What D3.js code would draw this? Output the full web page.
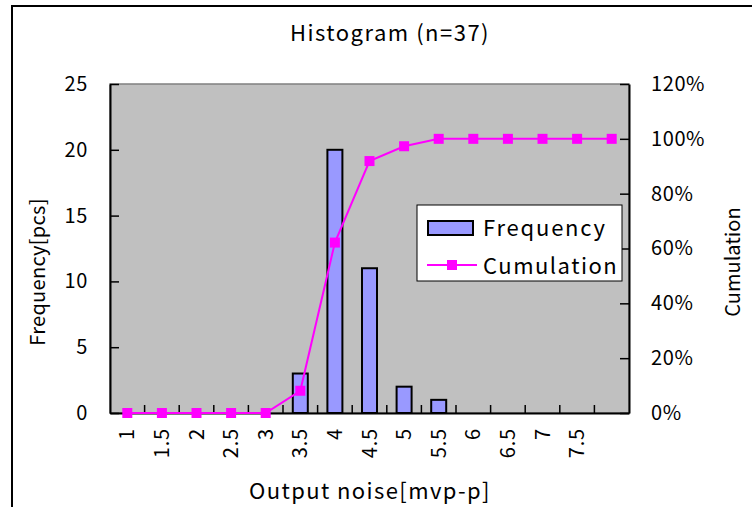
<!DOCTYPE html>
<html>
<head>
<meta charset="utf-8">
<script src="https://cdn.jsdelivr.net/npm/d3@7"></script>
<style>
  html, body { margin: 0; padding: 0; background: #fff; }
  svg { display: block; }
  text { font-family: "Noto Sans CJK JP", "Noto Sans", sans-serif; fill: #000; }
</style>
</head>
<body>
<svg id="chart" width="752" height="507"></svg>
<script>
// Bin labels (the last bin is the overflow bin, drawn without a label)
const bins = ["1", "1.5", "2", "2.5", "3", "3.5", "4", "4.5", "5", "5.5", "6", "6.5", "7", "7.5", ""];
// Count per bin
const frequency = [0, 0, 0, 0, 0, 3, 20, 11, 2, 1, 0, 0, 0, 0, 0];
const leftTicks = [0, 5, 10, 15, 20, 25];
const rightTicks = [0, 0.2, 0.4, 0.6, 0.8, 1.0, 1.2];

const total = d3.sum(frequency);
const cumulation = Array.from(d3.cumsum(frequency), v => v / total);

const svg = d3.select("#chart");
const W = 752, H = 507;
const plot = { left: 110, right: 629, top: 84, bottom: 413 };

// Outer chart frame
svg.append("path")
  .attr("d", `M12,${H + 5} L12,6 L${W + 5},6`)
  .attr("fill", "none").attr("stroke", "#000").attr("stroke-width", 2);

const x = d3.scaleBand().domain(d3.range(bins.length)).range([plot.left, plot.right]);
const cx = i => x(i) + x.bandwidth() / 2;
const yL = d3.scaleLinear().domain([0, 25]).range([plot.bottom, plot.top]);
const yR = d3.scaleLinear().domain([0, 1.2]).range([plot.bottom, plot.top]);

// Plot area
svg.append("rect")
  .attr("x", plot.left).attr("y", plot.top)
  .attr("width", plot.right - plot.left).attr("height", plot.bottom - plot.top)
  .attr("fill", "#c0c0c0").attr("stroke", "#808080").attr("stroke-width", 1.5);

// Bars (empty bins draw nothing)
const barW = 15;
const barData = frequency.map((v, i) => ({ v, i })).filter(d => d.v > 0);
svg.append("g").selectAll("rect").data(barData).join("rect")
  .attr("x", d => cx(d.i) - barW / 2)
  .attr("y", d => yL(d.v))
  .attr("width", barW)
  .attr("height", d => yL(0) - yL(d.v))
  .attr("fill", "#9999ff").attr("stroke", "#000").attr("stroke-width", 2);

// Axes
const axL = d3.axisLeft(yL).tickValues(leftTicks).tickSizeInner(-9).tickSizeOuter(0).tickPadding(22);
const gL = svg.append("g").attr("transform", `translate(${plot.left},0)`).call(axL);
const axR = d3.axisRight(yR).tickValues(rightTicks).tickSizeInner(-9).tickSizeOuter(0).tickPadding(22)
  .tickFormat(d3.format(".0%"));
const gR = svg.append("g").attr("transform", `translate(${plot.right},0)`).call(axR);
const axB = d3.axisBottom(x).tickValues([]).tickSizeOuter(0);
const gB = svg.append("g").attr("transform", `translate(0,${plot.bottom})`).call(axB);

[gL, gR, gB].forEach(g => {
  g.select(".domain").attr("stroke", "#000").attr("stroke-width", 2);
  g.selectAll(".tick line").attr("stroke", "#000").attr("stroke-width", 1.5);
  g.selectAll(".tick text").attr("font-size", 20).attr("fill", "#000")
    .attr("letter-spacing", 0.6)
    .style("font-family", '"Noto Sans CJK JP", "Noto Sans", sans-serif');
});

// Category boundary ticks on the bottom axis (pointing into the plot)
svg.append("g").selectAll("line").data(d3.range(1, bins.length)).join("line")
  .attr("x1", i => x(i)).attr("x2", i => x(i))
  .attr("y1", plot.bottom).attr("y2", plot.bottom - 8)
  .attr("stroke", "#000").attr("stroke-width", 1.5);

// Category labels, rotated
svg.append("g").selectAll("text").data(bins).join("text")
  .attr("transform", (d, i) => `translate(${cx(i) + 7},428) rotate(-90)`)
  .attr("text-anchor", "end")
  .attr("font-size", 20)
  .attr("letter-spacing", 0.8)
  .text(d => d);

// Cumulative line with square markers
const line = d3.line().x((d, i) => cx(i)).y(d => yR(d));
svg.append("path").datum(cumulation)
  .attr("d", line).attr("fill", "none").attr("stroke", "#ff00ff").attr("stroke-width", 2);
svg.append("g").selectAll("rect").data(cumulation).join("rect")
  .attr("x", (d, i) => cx(i) - 5)
  .attr("y", d => yR(d) - 5)
  .attr("width", 10).attr("height", 10)
  .attr("fill", "#ff00ff");

// Titles
svg.append("text").attr("x", 390).attr("y", 41).attr("text-anchor", "middle")
  .attr("font-size", 22).attr("letter-spacing", 1.5).text("Histogram (n=37)");
svg.append("text").attr("x", 370).attr("y", 499).attr("text-anchor", "middle")
  .attr("font-size", 22).attr("letter-spacing", 1.4).text("Output noise[mvp-p]");
svg.append("text").attr("transform", "translate(45,272) rotate(-90)").attr("text-anchor", "middle")
  .attr("font-size", 20).attr("letter-spacing", 0.3).text("Frequency[pcs]");
svg.append("text").attr("transform", "translate(740,262) rotate(-90)").attr("text-anchor", "middle")
  .attr("font-size", 20).text("Cumulation");

// Legend
const lg = svg.append("g").attr("transform", "translate(417,205)");
lg.append("rect").attr("width", 205).attr("height", 76)
  .attr("fill", "#fff").attr("stroke", "#000").attr("stroke-width", 1);
lg.append("rect").attr("x", 11).attr("y", 16).attr("width", 45).attr("height", 14)
  .attr("fill", "#9999ff").attr("stroke", "#000").attr("stroke-width", 2);
lg.append("text").attr("x", 66).attr("y", 31).attr("font-size", 22).attr("letter-spacing", 1.8).text("Frequency");
lg.append("line").attr("x1", 10).attr("x2", 60).attr("y1", 60).attr("y2", 60)
  .attr("stroke", "#ff00ff").attr("stroke-width", 2);
lg.append("rect").attr("x", 30).attr("y", 55).attr("width", 10).attr("height", 10).attr("fill", "#ff00ff");
lg.append("text").attr("x", 66).attr("y", 69).attr("font-size", 22).attr("letter-spacing", 1.5).text("Cumulation");
</script>
</body>
</html>
